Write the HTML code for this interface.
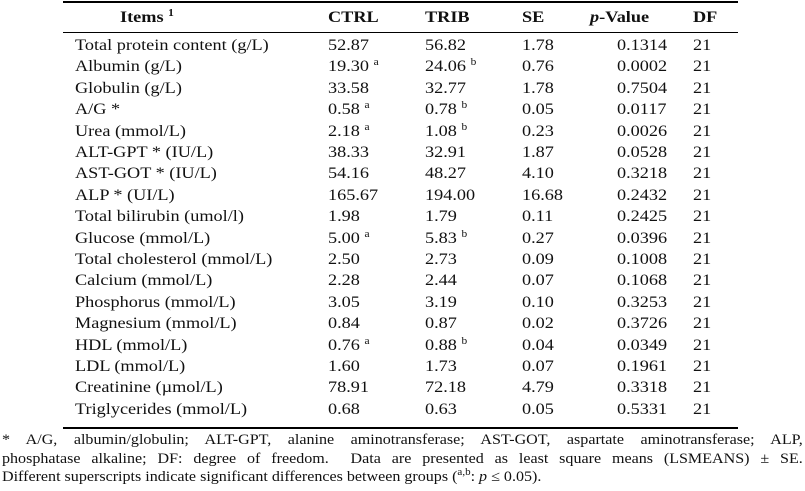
<!DOCTYPE html>
<html><head><meta charset="utf-8"><style>
body{margin:0;width:805px;height:491px;background:#fff;position:relative;overflow:hidden;font-family:"Liberation Serif",serif;font-size:16px;color:#111}
.r{position:absolute;left:0;width:805px;height:20px;line-height:20px}
.r span{position:absolute;white-space:nowrap;transform:scaleX(1.14);transform-origin:0 50%}
.c0{left:75px}.c1{left:328px}.c2{left:425px}.c3{left:522px}.c4{left:617px}.c5{left:693px}
sup{font-size:10px;vertical-align:6px;line-height:0}
.h span{font-weight:bold}
.line{position:absolute;left:63px;width:675px;background:#000}
.fl{position:absolute;left:2px;width:728px;font-size:14.6px;line-height:18px;white-space:nowrap;transform:scaleX(1.1);transform-origin:0 50%}
.j{text-align:justify;text-align-last:justify;white-space:normal}
</style></head><body>
<div class="line" style="top:1px;height:2px"></div>
<div class="line" style="top:32px;height:1px"></div>
<div class="line" style="top:427px;height:2px"></div>
<div class="r h" style="top:8px"><span style="left:120px">Items <sup>1</sup></span><span style="left:328px">CTRL</span><span style="left:425px">TRIB</span><span style="left:522px">SE</span><span style="left:590px"><i>p</i>-Value</span><span style="left:693px">DF</span></div>
<div class="r" style="top:36px"><span class="c0">Total protein content (g/L)</span><span class="c1">52.87</span><span class="c2">56.82</span><span class="c3">1.78</span><span class="c4">0.1314</span><span class="c5">21</span></div>
<div class="r" style="top:57.4px"><span class="c0">Albumin (g/L)</span><span class="c1">19.30 <sup>a</sup></span><span class="c2">24.06 <sup>b</sup></span><span class="c3">0.76</span><span class="c4">0.0002</span><span class="c5">21</span></div>
<div class="r" style="top:78.8px"><span class="c0">Globulin (g/L)</span><span class="c1">33.58</span><span class="c2">32.77</span><span class="c3">1.78</span><span class="c4">0.7504</span><span class="c5">21</span></div>
<div class="r" style="top:100.2px"><span class="c0">A/G *</span><span class="c1">0.58 <sup>a</sup></span><span class="c2">0.78 <sup>b</sup></span><span class="c3">0.05</span><span class="c4">0.0117</span><span class="c5">21</span></div>
<div class="r" style="top:121.6px"><span class="c0">Urea (mmol/L)</span><span class="c1">2.18 <sup>a</sup></span><span class="c2">1.08 <sup>b</sup></span><span class="c3">0.23</span><span class="c4">0.0026</span><span class="c5">21</span></div>
<div class="r" style="top:143px"><span class="c0">ALT-GPT * (IU/L)</span><span class="c1">38.33</span><span class="c2">32.91</span><span class="c3">1.87</span><span class="c4">0.0528</span><span class="c5">21</span></div>
<div class="r" style="top:164.4px"><span class="c0">AST-GOT * (IU/L)</span><span class="c1">54.16</span><span class="c2">48.27</span><span class="c3">4.10</span><span class="c4">0.3218</span><span class="c5">21</span></div>
<div class="r" style="top:185.8px"><span class="c0">ALP * (UI/L)</span><span class="c1">165.67</span><span class="c2">194.00</span><span class="c3">16.68</span><span class="c4">0.2432</span><span class="c5">21</span></div>
<div class="r" style="top:207.2px"><span class="c0">Total bilirubin (umol/l)</span><span class="c1">1.98</span><span class="c2">1.79</span><span class="c3">0.11</span><span class="c4">0.2425</span><span class="c5">21</span></div>
<div class="r" style="top:228.6px"><span class="c0">Glucose (mmol/L)</span><span class="c1">5.00 <sup>a</sup></span><span class="c2">5.83 <sup>b</sup></span><span class="c3">0.27</span><span class="c4">0.0396</span><span class="c5">21</span></div>
<div class="r" style="top:250px"><span class="c0">Total cholesterol (mmol/L)</span><span class="c1">2.50</span><span class="c2">2.73</span><span class="c3">0.09</span><span class="c4">0.1008</span><span class="c5">21</span></div>
<div class="r" style="top:271.4px"><span class="c0">Calcium (mmol/L)</span><span class="c1">2.28</span><span class="c2">2.44</span><span class="c3">0.07</span><span class="c4">0.1068</span><span class="c5">21</span></div>
<div class="r" style="top:292.8px"><span class="c0">Phosphorus (mmol/L)</span><span class="c1">3.05</span><span class="c2">3.19</span><span class="c3">0.10</span><span class="c4">0.3253</span><span class="c5">21</span></div>
<div class="r" style="top:314.2px"><span class="c0">Magnesium (mmol/L)</span><span class="c1">0.84</span><span class="c2">0.87</span><span class="c3">0.02</span><span class="c4">0.3726</span><span class="c5">21</span></div>
<div class="r" style="top:335.6px"><span class="c0">HDL (mmol/L)</span><span class="c1">0.76 <sup>a</sup></span><span class="c2">0.88 <sup>b</sup></span><span class="c3">0.04</span><span class="c4">0.0349</span><span class="c5">21</span></div>
<div class="r" style="top:357px"><span class="c0">LDL (mmol/L)</span><span class="c1">1.60</span><span class="c2">1.73</span><span class="c3">0.07</span><span class="c4">0.1961</span><span class="c5">21</span></div>
<div class="r" style="top:378.4px"><span class="c0">Creatinine (µmol/L)</span><span class="c1">78.91</span><span class="c2">72.18</span><span class="c3">4.79</span><span class="c4">0.3318</span><span class="c5">21</span></div>
<div class="r" style="top:399.8px"><span class="c0">Triglycerides (mmol/L)</span><span class="c1">0.68</span><span class="c2">0.63</span><span class="c3">0.05</span><span class="c4">0.5331</span><span class="c5">21</span></div>
<div class="fl j" style="top:431px">* A/G, albumin/globulin; ALT-GPT, alanine aminotransferase; AST-GOT, aspartate aminotransferase; ALP,</div>
<div class="fl j" style="top:450px">phosphatase alkaline; DF: degree of freedom. &nbsp;Data are presented as least square means (LSMEANS) ± SE.</div>
<div class="fl" style="top:468px">Different superscripts indicate significant differences between groups (<sup>a,b</sup>: <i>p</i> ≤ 0.05).</div>
</body></html>
